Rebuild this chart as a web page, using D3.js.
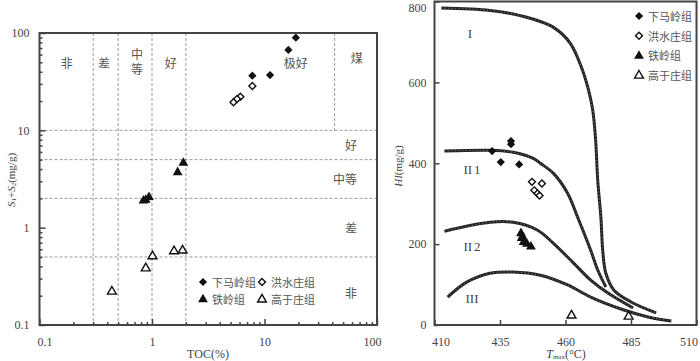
<!DOCTYPE html>
<html lang="en">
<head>
<meta charset="utf-8">
<title>TOC - S1+S2 / Tmax - HI</title>
<script src="https://d3js.org/d3.v7.min.js"></script>
<style>
  body { margin: 0; background: #fff; }
  text { font-family: "Liberation Serif", serif; fill: #444; }
  .zh { font-family: "Noto Sans CJK SC", sans-serif; fill: #555; }
</style>
</head>
<body>
<script>
// ---------- data: left chart (TOC % vs S1+S2 mg/g) ----------
var formations = ["下马岭组", "洪水庄组", "铁岭组", "高于庄组"];
var xmlToc   = [19.0, 16.3, 11.2, 7.8];
var xmlS12   = [89.5, 66.9, 37.0, 36.4];
var hszToc   = [7.8, 6.1, 5.7, 5.3];
var hszS12   = [28.5, 22.1, 21.0, 19.4];
var tlToc    = [1.90, 1.69, 0.94, 0.88, 0.84];
var tlS12    = [4.69, 3.75, 2.08, 1.95, 1.92];
var gyzToc   = [0.44, 0.88, 1.01, 1.57, 1.87];
var gyzS12   = [0.223, 0.387, 0.515, 0.58, 0.59];
var tocGrid  = [0.3, 0.5, 1, 2];
var s12Grid  = [10, 5, 2, 0.5];
var coalGrid = [42];
var logTicks = [0.1, 1, 10, 100];

// ---------- data: right chart (Tmax vs HI) ----------
var xmlTmax = [439.2, 439.2, 432.0, 435.3, 442.3];
var xmlHI   = [455, 447, 430, 403, 397];
var hszTmax = [447.2, 451.0, 448.1, 449.3, 450.1];
var hszHI   = [354, 350, 333, 325, 320];
var tlTmax  = [443.0, 443.3, 444.0, 445.3, 446.8, 443.6];
var tlHI    = [228, 216, 206, 202, 195, 220];
var gyzTmax = [462.3, 484.1];
var gyzHI   = [24.7, 22];
var tmaxTicks = [410, 435, 460, 485, 510];
var hiTicks   = [0, 200, 400, 600, 800];

// kerogen type boundary curves
var curveNames = ["I", "II1", "II2", "III"];
var curveI_T   = [412.6, 431.2, 442.7, 455.4, 461.9, 466.5, 468.5, 470.4, 471.5, 472.3, 473.5, 474.2, 475.4, 478.5, 485.0, 494.6];
var curveI_HI  = [784, 778, 765, 736, 696, 630, 588, 531, 457, 358, 267, 185, 128, 86, 57, 30];
var curveII1_T  = [413.8, 431.2, 440.0, 447.7, 450.4, 455.4, 460.8, 464.6, 469.6, 472.3, 475.4];
var curveII1_HI = [430, 432, 427, 412, 400, 375, 326, 267, 185, 136, 94];
var curveII2_T  = [413.8, 431.2, 440.0, 449.2, 455.4, 463.1, 469.6, 476.2, 485.8];
var curveII2_HI = [232, 254, 254, 235, 202, 153, 111, 79, 42];
var curveIII_T  = [415.0, 422.3, 431.2, 440.0, 450.4, 460.8, 469.6, 482.3, 491.5, 500.4];
var curveIII_HI = [69, 106, 128, 131, 123, 99, 69, 37, 20, 10];

var w = 700, h = 361;
var svg = d3.select("body").append("svg").attr("width", w).attr("height", h);

function zip(a, b) { return a.map(function (v, i) { return [v, b[i]]; }); }

// symbol drawing helper: kind = 0 filled diamond, 1 open diamond, 2 filled tri, 3 open tri
function drawSym(g, x, y, kind) {
  var p;
  if (kind < 2) {
    p = g.append("path").attr("d", d3.symbol().type(d3.symbolSquare).size(kind == 0 ? 34 : 24)())
      .attr("transform", "translate(" + x + "," + y + ") rotate(45)");
  } else {
    p = g.append("path").attr("d", d3.symbol().type(d3.symbolTriangle).size(kind == 2 ? 42 : 34)())
      .attr("transform", "translate(" + x + "," + (y + 0.5) + ")");
  }
  if (kind == 0 || kind == 2) p.attr("fill", "#111");
  else p.attr("fill", "#fff").attr("stroke", "#111").attr("stroke-width", 1.4);
}

// ================= LEFT CHART =================
var xL = d3.scaleLog().domain([0.1, 100]).range([39.5, 377]);
var yL = d3.scaleLog().domain([0.1, 100]).range([325, 33]);
var gL = svg.append("g");

// dashed classification grid
gL.selectAll("line.v").data(tocGrid).enter().append("line")
  .attr("x1", function (d) { return xL(d); }).attr("x2", function (d) { return xL(d); })
  .attr("y1", yL(100)).attr("y2", yL(0.1))
  .attr("stroke", "#999").attr("stroke-dasharray", "3,2");
gL.selectAll("line.c").data(coalGrid).enter().append("line")
  .attr("x1", function (d) { return xL(d); }).attr("x2", function (d) { return xL(d); })
  .attr("y1", yL(100)).attr("y2", yL(10))
  .attr("stroke", "#999").attr("stroke-dasharray", "3,2");
gL.selectAll("line.h").data(s12Grid).enter().append("line")
  .attr("x1", xL(0.1)).attr("x2", xL(100))
  .attr("y1", function (d) { return yL(d); }).attr("y2", function (d) { return yL(d); })
  .attr("stroke", "#999").attr("stroke-dasharray", "3,2");

// minor ticks (inward) and major ticks with labels
var minorL = [];
[0.1, 1, 10].forEach(function (dec) { for (var k = 2; k <= 9; k++) minorL.push(dec * k); });

gL.append("g").attr("transform", "translate(" + xL(0.1) + ",0)")
  .call(d3.axisLeft(yL).tickValues(minorL).tickSize(-3).tickFormat(""));
gL.append("g").attr("transform", "translate(" + xL(0.1) + ",0)")
  .call(d3.axisLeft(yL).tickValues(logTicks).tickSize(-6).tickPadding(10).tickFormat(d3.format("")));
gL.append("g").attr("transform", "translate(0," + yL(0.1) + ")")
  .call(d3.axisBottom(xL).tickValues(minorL).tickSize(-3).tickFormat(""));
var bx = gL.append("g").attr("transform", "translate(0," + yL(0.1) + ")")
  .call(d3.axisBottom(xL).tickValues(logTicks).tickSize(-6).tickPadding(12).tickFormat(d3.format("")));
bx.selectAll(".tick text").filter(function (d) { return d === 0.1; }).attr("dx", 5);
bx.selectAll(".tick text").filter(function (d) { return d === 100; }).attr("dx", -5);

gL.selectAll(".domain").remove();
gL.selectAll(".tick line").attr("stroke", "#444").attr("stroke-width", 1.5);
gL.selectAll(".tick text").attr("font-size", 12).attr("fill", "#444")
  .attr("font-family", "Liberation Serif, serif");

gL.append("rect").attr("x", xL(0.1)).attr("y", yL(100))
  .attr("width", xL(100) - xL(0.1)).attr("height", yL(0.1) - yL(100))
  .attr("fill", "none").attr("stroke", "#444").attr("stroke-width", 2);

// zone labels
var zh = function (x, y, t) {
  return gL.append("text").attr("class", "zh").attr("x", x).attr("y", y)
    .attr("text-anchor", "middle").attr("dominant-baseline", "central")
    .attr("font-size", 12).text(t);
};
zh(xL(0.175), yL(50), "非");
zh(xL(0.374), yL(50), "差");
zh(xL(0.735), yL(62), "中");
zh(xL(0.735), yL(43), "等");
zh(xL(1.47), yL(50), "好");
zh(xL(19), yL(50), "极好");
zh(xL(66), yL(56), "煤");
zh(351, yL(7.1), "好");
zh(345, yL(3.2), "中等");
zh(351, yL(1.0), "差");
zh(351, yL(0.215), "非");

// points
var pL = gL.append("g");
zip(xmlToc, xmlS12).forEach(function (d) { drawSym(pL, xL(d[0]), yL(d[1]), 0); });
zip(hszToc, hszS12).forEach(function (d) { drawSym(pL, xL(d[0]), yL(d[1]), 1); });
zip(tlToc, tlS12).forEach(function (d) { drawSym(pL, xL(d[0]), yL(d[1]), 2); });
zip(gyzToc, gyzS12).forEach(function (d) { drawSym(pL, xL(d[0]), yL(d[1]), 3); });

// legend
var legL = gL.append("g");
[[203, 282], [262, 282], [203, 299], [262, 299]].forEach(function (p, i) {
  drawSym(legL, p[0], p[1], i);
  legL.append("text").attr("class", "zh").attr("x", p[0] + 9).attr("y", p[1])
    .attr("dominant-baseline", "central").attr("font-size", 11).text(formations[i]);
});

// axis titles
var yt = gL.append("text").attr("transform", "translate(11,180) rotate(-90)")
  .attr("text-anchor", "middle").attr("dominant-baseline", "central").attr("font-size", 11);
yt.append("tspan").attr("font-style", "italic").text("S");
yt.append("tspan").attr("font-size", 7).attr("dy", 3).text("1");
yt.append("tspan").attr("dy", -3).text("+");
yt.append("tspan").attr("font-style", "italic").text("S");
yt.append("tspan").attr("font-size", 7).attr("dy", 3).text("2");
yt.append("tspan").attr("dy", -3).text("(mg/g)");
gL.append("text").attr("x", 208).attr("y", 354).attr("text-anchor", "middle")
  .attr("dominant-baseline", "central").attr("font-size", 12).text("TOC(%)");

// ================= RIGHT CHART =================
var xR = d3.scaleLinear().domain([410, 510]).range([434.5, 696.5]);
var yR = d3.scaleLinear().domain([0, 800]).range([325, 1.5]);
var gR = svg.append("g");

gR.append("g").attr("transform", "translate(" + xR(410) + ",0)")
  .call(d3.axisLeft(yR).tickValues(hiTicks).tickSize(-5).tickPadding(8).tickFormat(d3.format("d")));
gR.append("g").attr("transform", "translate(0," + yR(0) + ")")
  .call(d3.axisBottom(xR).tickValues(tmaxTicks).tickSize(-5).tickPadding(12).tickFormat(d3.format("d")));
gR.selectAll(".domain").remove();
gR.selectAll(".tick line").attr("stroke", "#444").attr("stroke-width", 1.5);
gR.selectAll(".tick text").attr("font-size", 12).attr("fill", "#444")
  .attr("font-family", "Liberation Serif, serif");
// nudge the end labels inside the frame like the original
gR.selectAll(".tick text").filter(function (d) { return d === 410; }).attr("dx", 6);
gR.selectAll(".tick text").filter(function (d) { return d === 510; }).attr("dx", -8);
gR.selectAll(".tick text").filter(function (d) { return d === 800; }).attr("dy", "0.85em");

gR.append("rect").attr("x", xR(410)).attr("y", yR(800))
  .attr("width", xR(510) - xR(410)).attr("height", yR(0) - yR(800))
  .attr("fill", "none").attr("stroke", "#444").attr("stroke-width", 2);

// boundary curves: thick dark stroke with a faint dotted texture on top
var line = d3.line().curve(d3.curveCatmullRom.alpha(0.5))
  .x(function (d) { return xR(d[0]); }).y(function (d) { return yR(d[1]); });
var curves = [zip(curveI_T, curveI_HI), zip(curveII1_T, curveII1_HI),
              zip(curveII2_T, curveII2_HI), zip(curveIII_T, curveIII_HI)];
gR.selectAll("path.curve").data(curves).enter().append("path")
  .attr("class", "curve").attr("d", line).attr("fill", "none")
  .attr("stroke", "#222").attr("stroke-width", 3);
gR.selectAll("path.tex").data(curves).enter().append("path")
  .attr("class", "tex").attr("d", line).attr("fill", "none")
  .attr("stroke", "#999").attr("stroke-width", 0.8).attr("stroke-dasharray", "1,2.5");

// curve labels
var roman = gR.append("g").attr("font-size", 13).attr("text-anchor", "middle");
[[470, 33, "I"], [472, 169, "II1"], [472, 246, "II2"], [472, 298, "III"]].forEach(function (l) {
  var t = roman.append("text").attr("x", l[0]).attr("y", l[1]).attr("dominant-baseline", "central")
    .attr("fill", "#333");
  if (l[2].length == 3 && l[2] != "III") {
    t.append("tspan").text(l[2].slice(0, 2));
    t.append("tspan").attr("dx", 2).text(l[2].slice(2));
  } else t.text(l[2]);
});

// points
var pR = gR.append("g");
zip(xmlTmax, xmlHI).forEach(function (d) { drawSym(pR, xR(d[0]), yR(d[1]), 0); });
zip(hszTmax, hszHI).forEach(function (d) { drawSym(pR, xR(d[0]), yR(d[1]), 1); });
zip(tlTmax, tlHI).forEach(function (d) { drawSym(pR, xR(d[0]), yR(d[1]), 2); });
zip(gyzTmax, gyzHI).forEach(function (d) { drawSym(pR, xR(d[0]), yR(d[1]), 3); });

// legend
var legR = gR.append("g");
formations.forEach(function (f, i) {
  var y = 16 + i * 19.7;
  drawSym(legR, 639, y, i);
  legR.append("text").attr("class", "zh").attr("x", 648).attr("y", y)
    .attr("dominant-baseline", "central").attr("font-size", 11).text(f);
});

// axis titles
var ht = gR.append("text").attr("transform", "translate(398,166) rotate(-90)")
  .attr("text-anchor", "middle").attr("dominant-baseline", "central").attr("font-size", 11);
ht.append("tspan").attr("font-style", "italic").text("HI");
ht.append("tspan").text("(mg/g)");
var tt = gR.append("text").attr("x", 566).attr("y", 354).attr("text-anchor", "middle")
  .attr("dominant-baseline", "central").attr("font-size", 12);
tt.append("tspan").attr("font-style", "italic").text("T");
tt.append("tspan").attr("font-size", 7).attr("dy", 3).text("max");
tt.append("tspan").attr("dy", -3).text("(°C)");
</script>
</body>
</html>
